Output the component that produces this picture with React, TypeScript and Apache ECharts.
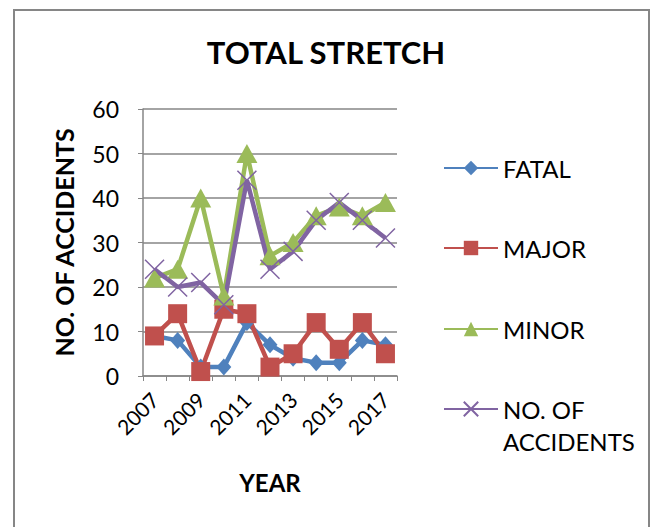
import React, { useEffect, useRef } from "react";
import * as echarts from "echarts";

const years = ["2007", "2008", "2009", "2010", "2011", "2012", "2013", "2014", "2015", "2016", "2017"];
const fatal = [9, 8, 2, 2, 12, 7, 4, 3, 3, 8, 7];
const major = [9, 14, 1, 15, 14, 2, 5, 12, 6, 12, 5];
const minor = [22, 24, 40, 18, 50, 27, 30, 36, 38, 36, 39];
const accidents = [24, 20, 21, 16, 44, 24, 28, 35, 39, 35, 31];
const seriesNames = ["FATAL", "MAJOR", "MINOR", "NO. OF ACCIDENTS"];

const FONT = "Lato";
const GRAY = "#868686";

export default function App() {
  const ref = useRef<HTMLDivElement>(null);
  useEffect(() => {
    if (!ref.current) return;
    const chart = echarts.init(ref.current, null, { renderer: "svg" });
    const legendBase = (name: string, top: number, fmt?: (n: string) => string) => ({
      orient: "vertical",
      left: 443,
      top,
      padding: 0,
      itemWidth: 54,
      itemHeight: 18,
      data: [name],
      selectedMode: false,
      formatter: fmt,
      textStyle: { fontFamily: FONT, fontSize: 24, color: "#000", lineHeight: fmt ? 32 : 30 },
    });
    chart.setOption({
      animation: false,
      textStyle: { fontFamily: FONT },
      title: {
        text: "TOTAL STRETCH",
        left: "center",
        top: 36,
        padding: [0, 0, 0, 20],
        textStyle: { fontFamily: FONT, fontSize: 31, fontWeight: "bold", color: "#000" },
      },
      graphic: [
        {
          type: "rect",
          shape: { x: 14, y: 10, width: 635, height: 540 },
          style: { fill: "none", stroke: GRAY, lineWidth: 2 },
          silent: true,
        },
      ],
      legend: [
        legendBase("FATAL", 153),
        legendBase("MAJOR", 233),
        legendBase("MINOR", 314),
        legendBase("NO. OF ACCIDENTS", 361, () => "\nNO. OF\nACCIDENTS"),
      ],
      grid: { left: 143, right: 255, top: 109, bottom: 151, containLabel: false },
      xAxis: {
        type: "category",
        data: years,
        boundaryGap: true,
        name: "YEAR",
        nameLocation: "middle",
        nameGap: 94,
        nameTextStyle: { fontFamily: FONT, fontSize: 24, fontWeight: "bold", color: "#000" },
        axisLine: { lineStyle: { color: GRAY, width: 1.5 } },
        axisTick: { show: true, length: 5, lineStyle: { color: GRAY }, interval: 0 },
        axisLabel: { interval: 1, rotate: 45, margin: 20, fontFamily: FONT, fontSize: 21, color: "#000" },
      },
      yAxis: {
        type: "value",
        min: 0,
        max: 60,
        interval: 10,
        name: "NO. OF ACCIDENTS",
        nameLocation: "middle",
        nameGap: 67,
        nameTextStyle: { fontFamily: FONT, fontSize: 25, fontWeight: "bold", color: "#000" },
        axisLine: { show: true, lineStyle: { color: GRAY, width: 1.5 } },
        axisTick: { show: true, length: 5, lineStyle: { color: GRAY } },
        axisLabel: { margin: 24, fontFamily: FONT, fontSize: 23, color: "#000" },
        splitLine: { lineStyle: { color: GRAY, width: 1.5 } },
      },
      series: [
        {
          name: seriesNames[0],
          type: "line",
          data: fatal,
          showAllSymbol: true,
          symbol: "diamond",
          symbolSize: [15, 17],
          itemStyle: { color: "#4f81bd" },
          lineStyle: { color: "#4f81bd", width: 4.5 },
        },
        {
          name: seriesNames[1],
          type: "line",
          data: major,
          showAllSymbol: true,
          symbol: "rect",
          symbolSize: 19,
          itemStyle: { color: "#c0504d" },
          lineStyle: { color: "#c0504d", width: 4.5 },
        },
        {
          name: seriesNames[2],
          type: "line",
          data: minor,
          showAllSymbol: true,
          symbol: "triangle",
          symbolSize: [21, 19],
          itemStyle: { color: "#9bbb59" },
          lineStyle: { color: "#9bbb59", width: 4.5 },
        },
        {
          name: seriesNames[3],
          type: "line",
          data: accidents,
          showAllSymbol: true,
          symbol: "path://M0,0L10,10M10,0L0,10",
          symbolSize: 19,
          itemStyle: { color: "#8064a2", borderColor: "#8064a2", borderWidth: 1.5 },
          lineStyle: { color: "#8064a2", width: 4.5 },
        },
      ],
    });
    return () => chart.dispose();
  }, []);
  return (
    <div
      ref={ref}
      style={{ position: "fixed", left: 0, top: 0, width: 652, height: 527, background: "#fff" }}
    />
  );
}
